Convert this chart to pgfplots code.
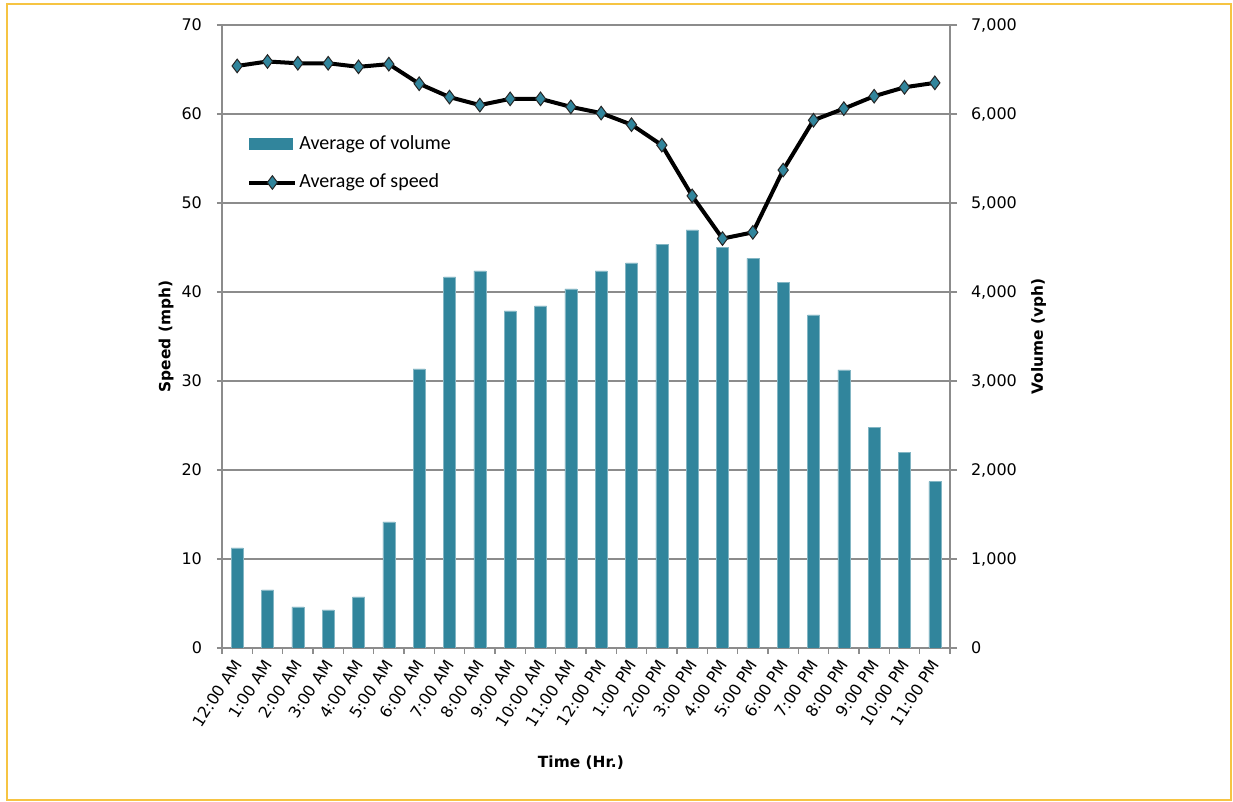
\documentclass[border=0pt]{standalone}
\usepackage{fontspec}
\setmainfont{DejaVu Sans}
\newfontfamily\calfont{Carlito}
\usepackage{pgfplots}
\usepackage{pgfplotstable}
\pgfplotsset{compat=1.18}
\definecolor{barcol}{HTML}{31859C}
\definecolor{gridcol}{HTML}{8C8C8C}
\definecolor{framecol}{HTML}{F6C443}

\pgfplotstableread{
x vol speed
0 1124 65.4
1 652 65.9
2 461 65.7
3 427 65.7
4 573 65.3
5 1416 65.6
6 3135 63.4
7 4169 61.9
8 4236 61.0
9 3787 61.7
10 3843 61.7
11 4034 60.8
12 4236 60.1
13 4326 58.8
14 4539 56.5
15 4697 50.8
16 4502 46.0
17 4378 46.7
18 4112 53.7
19 3742 59.3
20 3124 60.6
21 2483 62.0
22 2194 63.0
23 1869 63.5
}\data

\begin{document}
\begin{tikzpicture}
\path[use as bounding box] (0,0) rectangle (616.5pt,401pt);
\fill[white] (0,0) rectangle (616.5pt,401pt);
\draw[framecol, line width=0.8pt] (3.5pt,1pt) rectangle (615.5pt,399pt);

\begin{axis}[
  at={(111pt,77pt)}, anchor=south west, scale only axis,
  width=364pt, height=311.5pt,
  xmin=-0.5, xmax=23.5, ymin=0, ymax=7000,
  axis x line*=bottom, axis y line*=right,
  axis line style={gridcol, line width=0.7pt},
  ytick={0,1000,...,7000},
  ymajorgrids, grid style={gridcol, line width=0.7pt},
  xtick={0,...,23},
  xticklabels={12:00 AM,1:00 AM,2:00 AM,3:00 AM,4:00 AM,5:00 AM,6:00 AM,7:00 AM,8:00 AM,9:00 AM,10:00 AM,11:00 AM,12:00 PM,1:00 PM,2:00 PM,3:00 PM,4:00 PM,5:00 PM,6:00 PM,7:00 PM,8:00 PM,9:00 PM,10:00 PM,11:00 PM},
  minor xtick={-0.5,0.5,...,23.5},
  major x tick style={draw=none},
  minor x tick style={gridcol, line width=0.7pt},
  minor tick length=3pt,
  ytick style={gridcol, line width=0.7pt},
  major tick length=3.5pt,
  tick align=outside,
  ticklabel style={font=\fontsize{8}{9.6}\selectfont},
  /pgf/number format/assume math mode=true,
  /pgf/number format/1000 sep={,},
  yticklabel style={xshift=3.5pt},
  xticklabel style={rotate=57, anchor=east, yshift=-2pt, xshift=1pt},
  xlabel={Time (Hr.)},
  xlabel style={at={(axis description cs:0.493,0)}, yshift=-57.5pt, anchor=center},
  ylabel={Volume (vph)},
  ylabel style={at={(axis description cs:1.1216,0.5)}, anchor=center},
  label style={font=\bfseries\fontsize{7.7}{9}\selectfont},
]
\addplot[ybar, bar width=6pt, bar shift=0pt, fill=barcol, draw=barcol!60!white, line width=0.3pt] table[x=x, y=vol]{\data};
\end{axis}

\begin{axis}[
  at={(111pt,77pt)}, anchor=south west, scale only axis,
  width=364pt, height=311.5pt,
  xmin=-0.5, xmax=23.5, ymin=0, ymax=70,
  axis x line=none, axis y line*=left,
  axis line style={gridcol, line width=0.7pt},
  ytick={0,10,...,70},
  ytick style={gridcol, line width=0.7pt},
  major tick length=2.5pt,
  tick align=outside,
  ticklabel style={font=\fontsize{8}{9.6}\selectfont},
  /pgf/number format/assume math mode=true,
  yticklabel style={xshift=-4pt},
  ylabel={Speed (mph)},
  ylabel style={at={(axis description cs:-0.0769,0.5)}, anchor=center},
  label style={font=\bfseries\fontsize{7.7}{9}\selectfont},
  legend style={at={(axis description cs:0.0343,0.827)}, anchor=north west,
    draw=none, fill=none, inner sep=0pt, row sep=9pt,
    font=\calfont\fontsize{10}{12}\selectfont,
    nodes={inner sep=1pt}},
  legend cell align=left,
]
\addlegendimage{legend image code/.code={\fill[barcol] (0pt,-2.75pt) rectangle (21.5pt,2.75pt);}}
\addlegendentry{Average of volume}
\addplot[black, line width=2pt, mark=diamond*, mark size=3.4pt,
  mark options={fill=barcol, draw=black!85, line width=0.5pt},
  legend image code/.code={\draw[mark repeat=2,mark phase=2] plot coordinates {(0pt,0pt)(11.5pt,0pt)(23pt,0pt)};}]
  table[x=x, y=speed]{\data};
\addlegendentry{Average of speed}
\end{axis}
\end{tikzpicture}
\end{document}
